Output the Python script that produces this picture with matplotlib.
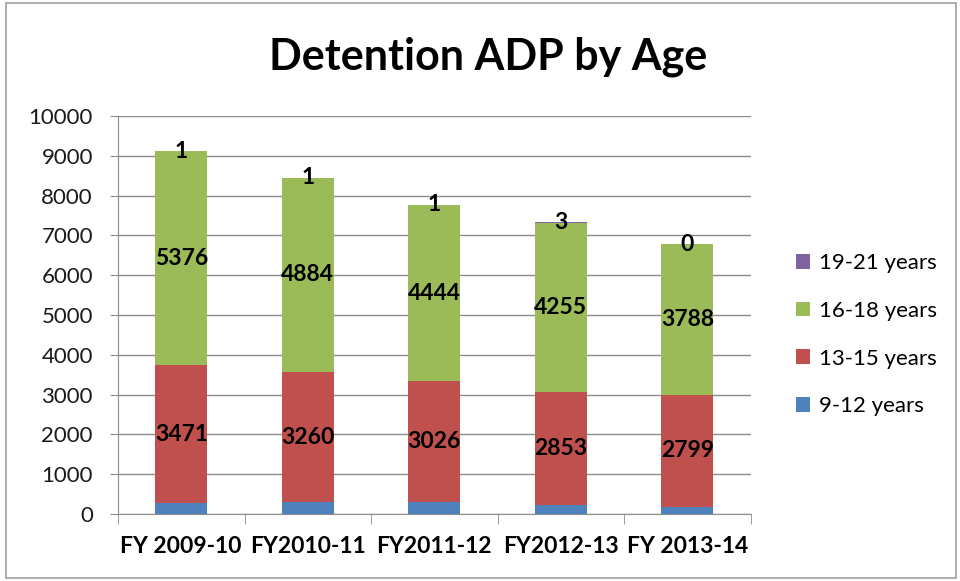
import matplotlib.pyplot as plt
import numpy as np
from matplotlib.patches import Rectangle

plt.rcParams['font.family'] = ['Lato', 'DejaVu Sans']

categories = ["FY 2009-10", "FY2010-11", "FY2011-12", "FY2012-13", "FY 2013-14"]
age_9_12 = [265, 305, 305, 215, 185]
age_13_15 = [3471, 3260, 3026, 2853, 2799]
age_16_18 = [5376, 4884, 4444, 4255, 3788]
age_19_21 = [1, 1, 1, 3, 0]
series_names = ["9-12 years", "13-15 years", "16-18 years", "19-21 years"]
colors = ["#4F81BD", "#C0504D", "#9BBB59", "#8064A2"]
yticks = [0, 1000, 2000, 3000, 4000, 5000, 6000, 7000, 8000, 9000, 10000]

fig = plt.figure(figsize=(9.6, 5.81), dpi=100)
ax = fig.add_axes([0.1229, 0.1153, 0.659, 0.685])

x = np.arange(len(categories))
series = [age_9_12, age_13_15, age_16_18, age_19_21]
bottom = np.zeros(len(categories))
width = 0.41
for i, (vals, name, c) in enumerate(zip(series, series_names, colors)):
    vals = np.array(vals, dtype=float)
    ax.bar(x, vals, width, bottom=bottom, color=c, label=name, zorder=3,
           linewidth=0)
    if i > 0:
        for xi, b, v in zip(x, bottom, vals):
            ypos = b + v if i == 3 else b + v / 2
            ax.text(xi, ypos, f"{int(v)}", ha='center', va='center',
                    fontsize=16.5, fontweight='bold', zorder=5)
    bottom += vals

ax.set_xlim(-0.5, len(categories) - 0.5)
ax.set_ylim(0, 10000)
ax.set_yticks(yticks)
ax.set_yticklabels([str(t) for t in yticks], fontsize=16, color='#1a1a1a')
ax.yaxis.grid(True, color='#8c8c8c', linewidth=1, zorder=0)
ax.set_axisbelow(True)
for s in ['top', 'right']:
    ax.spines[s].set_visible(False)
ax.spines['left'].set_color('#8c8c8c')
ax.spines['bottom'].set_color('#8c8c8c')
ax.tick_params(axis='y', length=6, color='#8c8c8c', pad=12)
ax.set_xticks(x)
ax.set_xticklabels(categories, fontsize=16.5, fontweight='bold')
ax.tick_params(axis='x', length=0, pad=16)
ax.set_xticks(np.arange(-0.5, len(categories), 1), minor=True)
ax.tick_params(axis='x', which='minor', length=7, color='#8c8c8c')

handles, labels = ax.get_legend_handles_labels()
fig.legend(handles[::-1], labels[::-1], loc='center left',
           bbox_to_anchor=(0.829, 0.424), frameon=False, fontsize=16,
           handlelength=0.65, handleheight=0.65, labelspacing=1.25,
           handletextpad=0.4, borderaxespad=0, borderpad=0)

fig.text(0.508, 1 - 70 / 581, "Detention ADP by Age", ha='center',
         va='baseline', fontsize=31, fontweight='bold')

fig.patches.append(Rectangle((0.006, 0.005), 0.99, 0.99, transform=fig.transFigure,
                             fill=False, edgecolor='#a0a0a0', linewidth=1.2))

fig.savefig("out.png", dpi=100)
